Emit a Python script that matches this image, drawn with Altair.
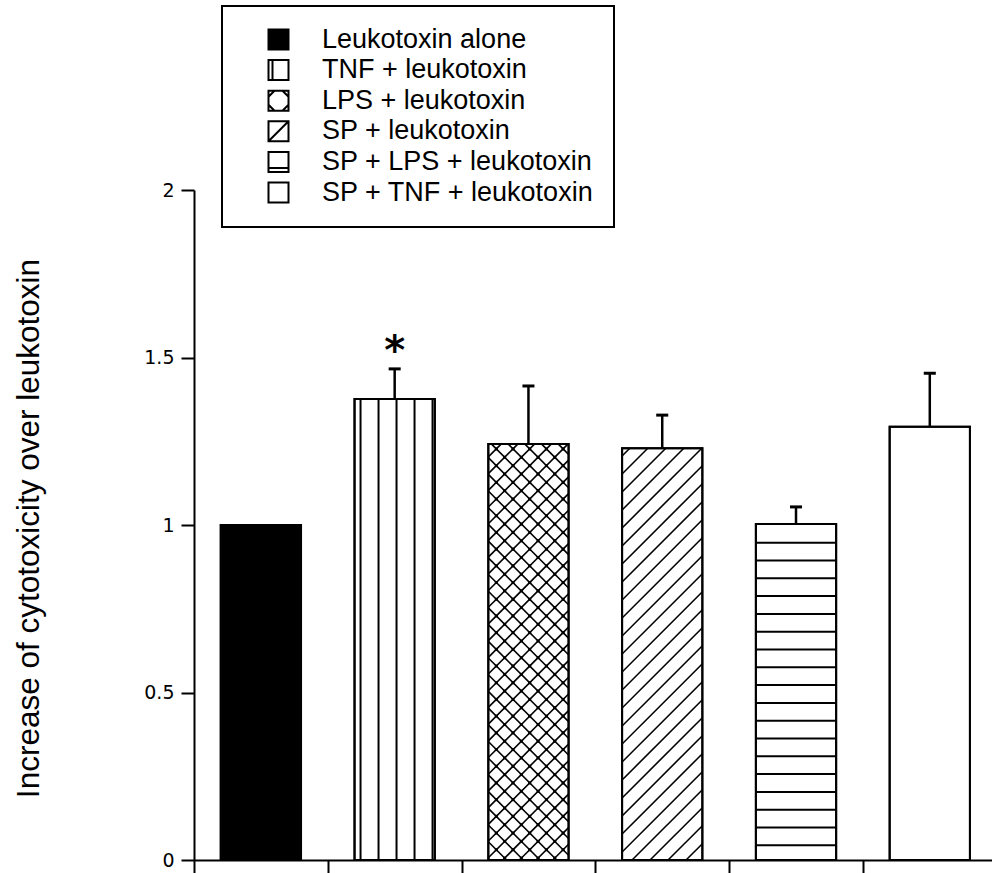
import altair as alt
import pandas as pd
import numpy as np

# ---------------- data ----------------
groups = [
    "Leukotoxin alone",
    "TNF + leukotoxin",
    "LPS + leukotoxin",
    "SP + leukotoxin",
    "SP + LPS + leukotoxin",
    "SP + TNF + leukotoxin",
]
means = [1.0, 1.376, 1.242, 1.229, 1.003, 1.293]
sems = [0.0, 0.090, 0.173, 0.099, 0.051, 0.160]
significant = ["", "*", "", "", "", ""]
y_ticks = [0, 0.5, 1, 1.5, 2]
x_ticks = [-0.5, 0.5, 1.5, 2.5, 3.5, 4.5]

# ---------------- styles ----------------
fills = ["#000000", "#ffffff", "#ffffff", "#ffffff", "#ffffff", "#ffffff"]
hatches = ["solid", "vertical", "cross", "diagonal", "horizontal", "none"]
SQ = "M-1,-1H1V1H-1Z"
legend_paths = [
    SQ,
    SQ + " M-0.6,-1V1",
    SQ + " M-0.4,-1L-1,-0.4 M0.4,-1L1,-0.4 M1,0.4L0.4,1 M-0.4,1L-1,0.4",
    SQ + " M-1,1L1,-1",
    SQ + " M-1,0.6H1",
    SQ,
]
PX_X = 133.78   # pixels per category step
PX_Y = 335.0    # pixels per y unit
HALF = 0.3      # half bar width in category steps
X_DOMAIN = [-0.5, 5.465]

bars = pd.DataFrame({
    "group": groups,
    "pos": list(range(len(groups))),
    "mean": means,
    "sem": sems,
    "fill": fills,
    "star": significant,
})
bars["x0"] = bars["pos"] - HALF
bars["x1"] = bars["pos"] + HALF
bars["top"] = bars["mean"] + bars["sem"]
bars["cap0"] = bars["pos"] - 0.045
bars["cap1"] = bars["pos"] + 0.045
err = bars[bars["sem"] > 0]

# ---------------- hatch geometry (derived from the bar values) ----------------
def clip_diag(s, c, W, H):
    if s > 0:
        lo, hi = max(0.0, -c), min(W, H - c)
    else:
        lo, hi = max(0.0, c - H), min(W, c)
    if hi - lo < 0.5:
        return None
    return lo, s * lo + c, hi, s * hi + c

segs, dots = [], []
for i, kind in enumerate(hatches):
    W = 2 * HALF * PX_X
    H = means[i] * PX_Y
    xl = i - HALF

    def add(X1, Y1, X2, Y2, w):
        segs.append({"x": xl + X1 / PX_X, "x2": xl + X2 / PX_X,
                     "y": Y1 / PX_Y, "y2": Y2 / PX_Y, "w": w})

    if kind == "vertical":
        X = 6.0
        while X <= W - 0.5:
            add(X, 0, X, H, 2)
            X += 18.0
    elif kind == "horizontal":
        Y = 14.7
        while Y < H - 4:
            add(0, Y, W, Y, 2)
            Y += 17.8
    elif kind == "diagonal":
        d = 18.0
        phase = (H - 7.7) % d
        for k in range(-20, 40):
            r = clip_diag(1, phase + d * k - d * 10, W, H)
            if r:
                add(*r, 1.6)
    elif kind == "cross":
        d = 16.7
        a0 = (H - 13) % d
        b0 = (H + 3) % d
        A = [a0 + d * k for k in range(-12, 30)]
        B = [b0 + d * k for k in range(-12, 40)]
        for a in A:
            r = clip_diag(1, a, W, H)
            if r:
                add(*r, 1.6)
        for b in B:
            r = clip_diag(-1, b, W, H)
            if r:
                add(*r, 1.6)
        for a in A:
            for b in B:
                X, Y = (b - a) / 2, (a + b) / 2
                if 1 < X < W - 1 and 1 < Y < H - 1:
                    dots.append({"x": xl + X / PX_X, "y": Y / PX_Y})

segs = pd.DataFrame(segs)
dots = pd.DataFrame(dots)

# ---------------- encodings ----------------
xs = alt.Scale(domain=X_DOMAIN, nice=False, zero=False)
ys = alt.Scale(domain=[0, 2], nice=False)
xaxis = alt.Axis(values=x_ticks, labels=False, title="", tickSize=14, grid=False)
yaxis = alt.Axis(
    values=y_ticks, format="~g", title="Increase of cytotoxicity over leukotoxin",
    tickSize=13, labelPadding=7, grid=False,
    labelFont="DejaVu Sans", labelFontSize=19, labelColor="black",
    titleFont="Liberation Sans", titleFontSize=31.5, titleFontWeight="normal",
    titleColor="black", titleAngle=270, titleAlign="center", titleBaseline="middle",
    titleX=-165, titleY=338,
)

def X(f):
    return alt.X(f, type="quantitative", scale=xs, axis=xaxis)

def Y(f):
    return alt.Y(f, type="quantitative", scale=ys, axis=yaxis)

bar_fill = alt.Chart(bars).mark_rect(stroke="black", strokeWidth=2).encode(
    x=X("x0"), x2="x1", y=Y("mean"), y2=alt.datum(0),
    fill=alt.Fill("fill:N", scale=None),
)

hatch = alt.Chart(segs).mark_rule(color="black").encode(
    x=X("x"), x2="x2", y=Y("y"), y2="y2",
    strokeWidth=alt.StrokeWidth("w:Q", scale=None),
)

hatch_dots = alt.Chart(dots).mark_square(color="black", size=9, opacity=1).encode(
    x=X("x"), y=Y("y"),
)

bar_outline = alt.Chart(bars).mark_rect(stroke="black", strokeWidth=2, fillOpacity=0, fill="white").encode(
    x=X("x0"), x2="x1", y=Y("mean"), y2=alt.datum(0),
)

err_line = alt.Chart(err).mark_rule(color="black", strokeWidth=2.5).encode(
    x=X("pos"), y=Y("mean"), y2="top",
)
err_cap = alt.Chart(err).mark_rule(color="black", strokeWidth=3).encode(
    x=X("cap0"), x2="cap1", y=Y("top"),
)

star = alt.Chart(bars).mark_text(
    font="DejaVu Sans", fontSize=40, fontWeight="bold", color="black",
    baseline="alphabetic", align="center", dy=-5,
).encode(x=X("pos"), y=Y("top"), text="star:N")

legend_layer = alt.Chart(bars).transform_filter("false").mark_point(
    stroke="black", strokeWidth=2, opacity=1, fillOpacity=1,
).encode(
    x=X("pos"), y=Y("mean"),
    fill=alt.Fill("group:N", sort=groups,
                  scale=alt.Scale(domain=groups, range=fills),
                  legend=alt.Legend(title=None)),
    shape=alt.Shape("group:N", sort=groups,
                    scale=alt.Scale(domain=groups, range=legend_paths),
                    legend=alt.Legend(title=None)),
)

chart = alt.layer(
    bar_fill, hatch, hatch_dots, bar_outline, err_line, err_cap, star, legend_layer
).properties(
    width=798, height=670,
    padding={"left": 194, "top": 190, "right": 0, "bottom": 13},
    autosize=alt.AutoSizeParams(type="none"),
    background="white",
).configure_view(
    strokeWidth=0,
).configure_axis(
    domainColor="black", domainWidth=2, tickColor="black", tickWidth=2,
    labelFont="DejaVu Sans", labelFontSize=19, labelColor="black",
).configure_axisY(
    labelFontSize=19,
).configure_legend(
    orient="none", legendX=28, legendY=-184,
    padding=20, symbolOffset=23, rowPadding=1.6, labelOffset=30,
    labelFont="Liberation Sans", labelFontSize=27, labelColor="black", labelLimit=500,
    symbolSize=400, symbolStrokeWidth=2, symbolStrokeColor="black",
    strokeColor="black", strokeWidth=2, fillColor="white",
)

chart.save("out.html", embed_options={"renderer": "svg", "actions": False})
